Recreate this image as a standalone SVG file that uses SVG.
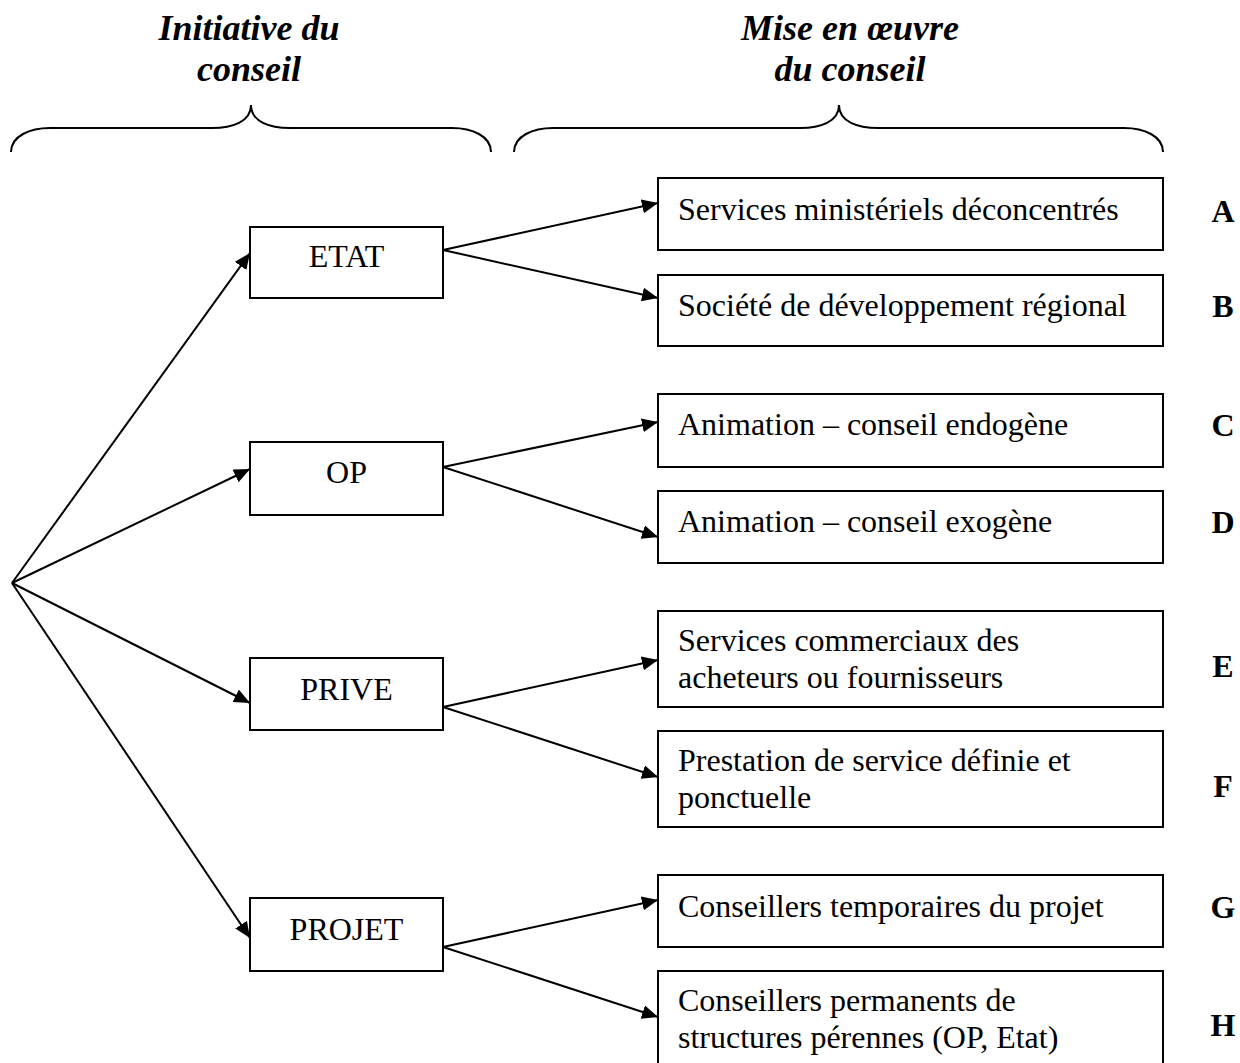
<svg xmlns="http://www.w3.org/2000/svg" width="1240" height="1063" viewBox="0 0 1240 1063">
<style>
  .bg { fill: #ffffff; }
  .box { fill: #ffffff; stroke: #000000; stroke-width: 2; }
  .txt { font-family: "Liberation Serif", "Times New Roman", serif; font-size: 32px; fill: #000000; }
  .mid { text-anchor: middle; }
  .title { font-family: "Liberation Serif", "Times New Roman", serif; font-size: 36px; font-weight: bold; font-style: italic; fill: #000000; text-anchor: middle; }
  .letter { font-family: "Liberation Serif", "Times New Roman", serif; font-size: 32px; font-weight: bold; fill: #000000; text-anchor: middle; }
  .brace { fill: none; stroke: #000000; stroke-width: 2; }
  .conn { fill: none; stroke: #000000; stroke-width: 2; marker-end: url(#arrow); }
</style>
<defs>
  <marker id="arrow" markerUnits="userSpaceOnUse" markerWidth="17" markerHeight="14" refX="16" refY="7" orient="auto">
    <path d="M0,0 L16,7 L0,14 Z" fill="#000000"/>
  </marker>
</defs>
<rect class="bg" x="0" y="0" width="1240" height="1063"/>

<g id="titles">
  <text class="title" x="249" y="40">Initiative du</text>
  <text class="title" x="249" y="81">conseil</text>
  <text class="title" x="850" y="40">Mise en œuvre</text>
  <text class="title" x="850" y="81">du conseil</text>
</g>

<g id="braces">
  <path class="brace" d="M11,152 C11,136 30,128 50,128 L212,128 C232,128 251,122 251,105 C251,122 270,128 290,128 L452,128 C472,128 491,136 491,152"/>
  <path class="brace" d="M514,152 C514,136 533,128 553,128 L800,128 C820,128 839,122 839,105 C839,122 858,128 878,128 L1124,128 C1144,128 1163,136 1163,152"/>
</g>

<g id="connectors">
  <line class="conn" x1="12" y1="583" x2="250" y2="253"/>
  <line class="conn" x1="12" y1="583" x2="250" y2="469"/>
  <line class="conn" x1="12" y1="583" x2="250" y2="703"/>
  <line class="conn" x1="12" y1="583" x2="250" y2="938"/>
  <line class="conn" x1="443" y1="250" x2="658" y2="203"/>
  <line class="conn" x1="443" y1="250" x2="658" y2="298"/>
  <line class="conn" x1="443" y1="467" x2="658" y2="422"/>
  <line class="conn" x1="443" y1="467" x2="658" y2="537"/>
  <line class="conn" x1="443" y1="707" x2="658" y2="660"/>
  <line class="conn" x1="443" y1="707" x2="658" y2="777"/>
  <line class="conn" x1="443" y1="947" x2="658" y2="900"/>
  <line class="conn" x1="443" y1="947" x2="658" y2="1017"/>
</g>

<g id="node-etat">
  <rect class="box" x="250" y="227" width="193" height="71"/>
  <text class="txt mid" x="346.5" y="267">ETAT</text>
</g>
<g id="node-op">
  <rect class="box" x="250" y="442" width="193" height="73"/>
  <text class="txt mid" x="346.5" y="483">OP</text>
</g>
<g id="node-prive">
  <rect class="box" x="250" y="658" width="193" height="72"/>
  <text class="txt mid" x="346.5" y="700">PRIVE</text>
</g>
<g id="node-projet">
  <rect class="box" x="250" y="898" width="193" height="73"/>
  <text class="txt mid" x="346.5" y="940">PROJET</text>
</g>

<g id="node-a">
  <rect class="box" x="658" y="178" width="505" height="72"/>
  <text class="txt" x="678" y="220">Services ministériels déconcentrés</text>
  <text class="letter" x="1223" y="222">A</text>
</g>
<g id="node-b">
  <rect class="box" x="658" y="275" width="505" height="71"/>
  <text class="txt" x="678" y="316">Société de développement régional</text>
  <text class="letter" x="1223" y="317">B</text>
</g>
<g id="node-c">
  <rect class="box" x="658" y="394" width="505" height="73"/>
  <text class="txt" x="678" y="435">Animation – conseil endogène</text>
  <text class="letter" x="1223" y="436">C</text>
</g>
<g id="node-d">
  <rect class="box" x="658" y="491" width="505" height="72"/>
  <text class="txt" x="678" y="532">Animation – conseil exogène</text>
  <text class="letter" x="1223" y="533">D</text>
</g>
<g id="node-e">
  <rect class="box" x="658" y="611" width="505" height="96"/>
  <text class="txt" x="678" y="651">Services commerciaux des</text>
  <text class="txt" x="678" y="688">acheteurs ou fournisseurs</text>
  <text class="letter" x="1223" y="677">E</text>
</g>
<g id="node-f">
  <rect class="box" x="658" y="731" width="505" height="96"/>
  <text class="txt" x="678" y="771">Prestation de service définie et</text>
  <text class="txt" x="678" y="808">ponctuelle</text>
  <text class="letter" x="1223" y="797">F</text>
</g>
<g id="node-g">
  <rect class="box" x="658" y="875" width="505" height="72"/>
  <text class="txt" x="678" y="917">Conseillers temporaires du projet</text>
  <text class="letter" x="1223" y="918">G</text>
</g>
<g id="node-h">
  <rect class="box" x="658" y="971" width="505" height="96"/>
  <text class="txt" x="678" y="1011">Conseillers permanents de</text>
  <text class="txt" x="678" y="1048">structures pérennes (OP, Etat)</text>
  <text class="letter" x="1223" y="1036">H</text>
</g>
</svg>
